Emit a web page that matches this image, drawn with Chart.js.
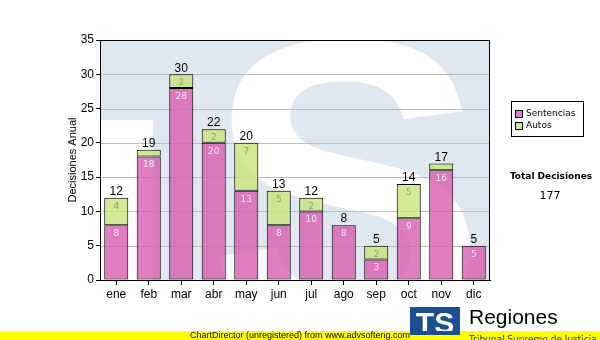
<!DOCTYPE html>
<html>
<head>
<meta charset="utf-8">
<script src="https://cdn.jsdelivr.net/npm/chart.js@4"></script>
<style>
  html, body { margin: 0; padding: 0; background: #fff; }
  #wrap { width: 600px; height: 340px; position: relative; }
</style>
</head>
<body>
<div id="wrap"><canvas id="chart" width="600" height="340"></canvas></div>
<script>
// Chart data
const months = ['ene', 'feb', 'mar', 'abr', 'may', 'jun', 'jul', 'ago', 'sep', 'oct', 'nov', 'dic'];
const sentencias = [8, 18, 28, 20, 13, 8, 10, 8, 3, 9, 16, 5];
const autos = [4, 1, 2, 2, 7, 5, 2, 0, 2, 5, 1, 0];
const yTicks = [0, 5, 10, 15, 20, 25, 30, 35];

const colors = {
  sentencias: 'rgba(216, 96, 176, 0.82)',
  autos: 'rgba(200, 228, 120, 0.8)',
  sentenciasKey: '#dc7cc0',
  autosKey: '#d2e896',
  grid: '#bdbdbd',
  plotBg: '#dfe8f1',
  axis: '#000000'
};

// Background watermark inside plot area
const watermark = {
  id: 'watermark',
  beforeDatasetsDraw(chart) {
    const { ctx, chartArea: a } = chart;
    ctx.save();
    ctx.beginPath();
    ctx.rect(a.left, a.top, a.right - a.left, a.bottom - a.top);
    ctx.clip();
    ctx.fillStyle = colors.plotBg;
    ctx.fillRect(a.left, a.top, a.right - a.left, a.bottom - a.top);
    ctx.fillStyle = '#ffffff';
    ctx.fillRect(a.left, 120, 53, a.bottom - 120);
    ctx.font = 'bold 420px "Liberation Sans"';
    ctx.textAlign = 'center';
    ctx.textBaseline = 'alphabetic';
    ctx.fillText('S', 346, 332);
    ctx.restore();

    // grid lines drawn over the watermark
    const y = chart.scales.y;
    ctx.save();
    ctx.strokeStyle = colors.grid;
    ctx.lineWidth = 1;
    yTicks.slice(1, -1).forEach(v => {
      const py = Math.round(y.getPixelForValue(v)) + 0.5;
      ctx.beginPath();
      ctx.moveTo(a.left, py);
      ctx.lineTo(a.right, py);
      ctx.stroke();
    });
    ctx.restore();
  }
};

// Value labels, frame, legend, side text and footer
const extras = {
  id: 'extras',
  afterDatasetsDraw(chart) {
    const { ctx, chartArea: a } = chart;
    ctx.save();
    // frame
    ctx.strokeStyle = colors.axis;
    ctx.lineWidth = 1;
    ctx.strokeRect(a.left + 0.5, a.top + 0.5, a.right - a.left - 1, a.bottom - a.top);

    // segment labels
    ctx.textAlign = 'center';
    const m0 = chart.getDatasetMeta(0);
    const m1 = chart.getDatasetMeta(1);
    months.forEach((_, i) => {
      ctx.font = '9px "DejaVu Sans"';
      ctx.textBaseline = 'top';
      const b0 = m0.data[i];
      if (sentencias[i] > 1) {
        ctx.fillStyle = '#fbeaf6';
        ctx.fillText(String(sentencias[i]), b0.x, b0.y + 4);
      }
      const b1 = m1.data[i];
      if (autos[i] > 1) {
        ctx.fillStyle = '#9a9a8a';
        ctx.fillText(String(autos[i]), b1.x, b1.y + 4);
      }
      // totals
      const total = sentencias[i] + autos[i];
      const top = chart.scales.y.getPixelForValue(total);
      ctx.fillStyle = '#000';
      ctx.font = '12px "Liberation Sans"';
      ctx.textBaseline = 'bottom';
      ctx.fillText(String(total), b0.x, top);
    });

    // legend box
    ctx.fillStyle = '#fff';
    ctx.fillRect(511.5, 101.5, 72, 35);
    ctx.strokeStyle = '#000';
    ctx.strokeRect(511.5, 101.5, 72, 35);
    const items = [['Sentencias', colors.sentenciasKey], ['Autos', colors.autosKey]];
    ctx.font = '9px "DejaVu Sans"';
    ctx.textAlign = 'left';
    ctx.textBaseline = 'middle';
    items.forEach((it, k) => {
      const yy = 114 + k * 12;
      ctx.fillStyle = it[1];
      ctx.fillRect(515.5, yy - 3.5, 7, 7);
      ctx.strokeStyle = '#000';
      ctx.strokeRect(515.5, yy - 3.5, 7, 7);
      ctx.fillStyle = '#000';
      ctx.fillText(it[0], 526, yy);
    });

    // total text
    const total = sentencias.reduce((s, v) => s + v, 0) + autos.reduce((s, v) => s + v, 0);
    ctx.textAlign = 'center';
    ctx.font = 'bold 9px "DejaVu Sans"';
    ctx.fillText('Total Decisiones', 551, 177);
    ctx.font = '11px "DejaVu Sans"';
    ctx.fillText(String(total), 550, 196);

    // footer logo
    ctx.fillStyle = '#1c4e92';
    ctx.fillRect(410, 307, 50, 30);
    ctx.fillStyle = '#fff';
    ctx.font = 'bold 30px "Liberation Sans"';
    ctx.textAlign = 'center';
    ctx.textBaseline = 'alphabetic';
    ctx.fillText('TS', 435, 333);
    ctx.fillStyle = '#000';
    ctx.font = '21px "Liberation Sans"';
    ctx.textAlign = 'left';
    ctx.fillText('Regiones', 469, 324);

    // yellow bar
    ctx.fillStyle = '#ffff00';
    ctx.fillRect(0, 331, 600, 9);
    ctx.fillStyle = '#1c4e92';
    ctx.fillRect(410, 331, 50, 4);
    ctx.fillStyle = '#333';
    ctx.font = '9px "DejaVu Sans"';
    ctx.fillText('Tribunal Supremo de Justicia', 469, 342);
    ctx.fillStyle = '#000';
    ctx.font = '9px "Liberation Sans"';
    ctx.textAlign = 'left';
    ctx.textBaseline = 'middle';
    ctx.fillText('ChartDirector (unregistered) from www.advsofteng.com', 190, 335.5);
    ctx.restore();
  }
};

const ctx = document.getElementById('chart').getContext('2d');

new Chart(ctx, {
  type: 'bar',
  data: {
    labels: months,
    datasets: [
      {
        label: 'Sentencias',
        data: sentencias,
        backgroundColor: colors.sentencias,
        borderColor: '#000',
        borderWidth: 1,
        borderSkipped: false
      },
      {
        label: 'Autos',
        data: autos,
        backgroundColor: colors.autos,
        borderColor: '#000',
        borderWidth: 1,
        borderSkipped: false
      }
    ]
  },
  options: {
    responsive: false,
    animation: false,
    devicePixelRatio: 1,
    layout: { padding: { left: 62, right: 110, top: 40, bottom: 0 } },
    datasets: { bar: { categoryPercentage: 1, barPercentage: 0.74 } },
    plugins: {
      legend: { display: false },
      tooltip: { enabled: false }
    },
    scales: {
      x: {
        stacked: true,
        afterFit: s => { s.height = 60; },
        grid: {
          offset: false,
          drawOnChartArea: false,
          color: '#000',
          tickLength: 5
        },
        border: { color: '#000' },
        ticks: {
          color: '#000',
          padding: 2,
          font: { family: 'Liberation Sans', size: 12 }
        }
      },
      y: {
        stacked: true,
        min: 0,
        max: 35,
        afterFit: s => { s.width = 38; },
        afterBuildTicks: s => { s.ticks = yTicks.map(v => ({ value: v })); },
        grid: {
          drawOnChartArea: false,
          color: '#000',
          tickLength: 4
        },
        border: { color: '#000' },
        ticks: {
          color: '#000',
          padding: 2,
          font: { family: 'Liberation Sans', size: 12 }
        },
        title: {
          display: true,
          text: 'Decisiones Anual',
          color: '#000',
          padding: { top: 4, bottom: 0 },
          font: { family: 'Liberation Sans', size: 11 }
        }
      }
    }
  },
  plugins: [watermark, extras]
});
</script>
</body>
</html>
